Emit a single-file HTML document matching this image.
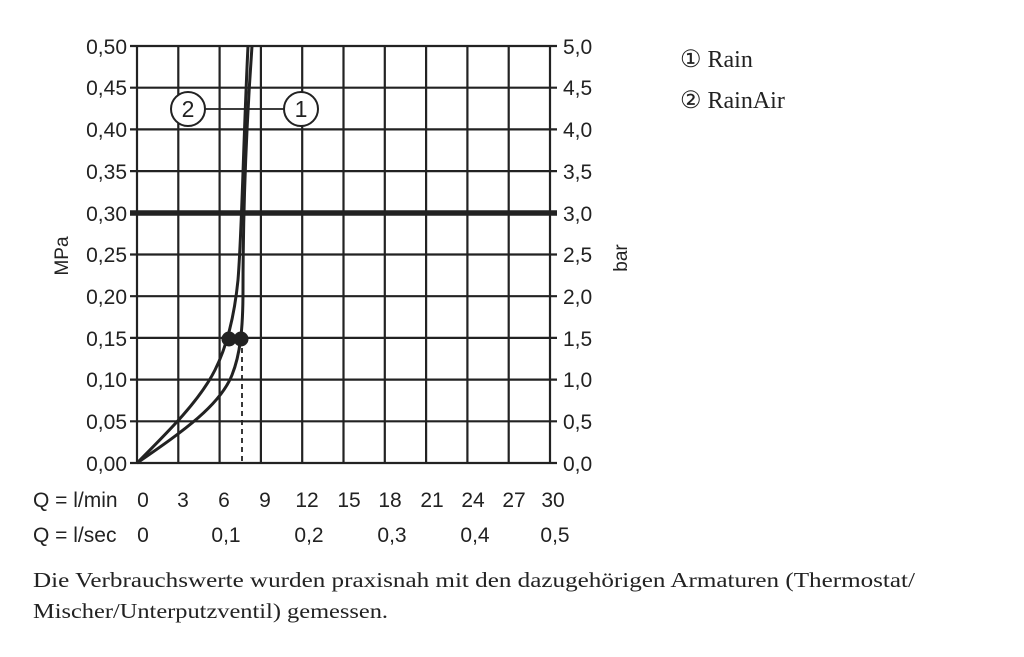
<!DOCTYPE html>
<html><head><meta charset="utf-8"><style>
body{margin:0;background:#fff;width:1024px;height:652px;overflow:hidden}
</style></head><body>
<svg width="1024" height="652" viewBox="0 0 1024 652" xmlns="http://www.w3.org/2000/svg" font-family="Liberation Sans, sans-serif" fill="#222">
<g stroke="#222" stroke-width="2.2" fill="none">
<line x1="137" y1="46" x2="137" y2="463"/><line x1="178.3" y1="46" x2="178.3" y2="463"/><line x1="219.6" y1="46" x2="219.6" y2="463"/><line x1="260.9" y1="46" x2="260.9" y2="463"/><line x1="302.2" y1="46" x2="302.2" y2="463"/><line x1="343.5" y1="46" x2="343.5" y2="463"/><line x1="384.8" y1="46" x2="384.8" y2="463"/><line x1="426.1" y1="46" x2="426.1" y2="463"/><line x1="467.4" y1="46" x2="467.4" y2="463"/><line x1="508.7" y1="46" x2="508.7" y2="463"/><line x1="550" y1="46" x2="550" y2="463"/>
<line x1="130" y1="46" x2="557" y2="46"/><line x1="130" y1="87.7" x2="557" y2="87.7"/><line x1="130" y1="129.4" x2="557" y2="129.4"/><line x1="130" y1="171.1" x2="557" y2="171.1"/><line x1="130" y1="254.5" x2="557" y2="254.5"/><line x1="130" y1="296.2" x2="557" y2="296.2"/><line x1="130" y1="337.9" x2="557" y2="337.9"/><line x1="130" y1="379.6" x2="557" y2="379.6"/><line x1="130" y1="421.3" x2="557" y2="421.3"/><line x1="130" y1="463" x2="557" y2="463"/>
<line x1="130" y1="213" x2="557" y2="213" stroke-width="5.5"/>
<line x1="242" y1="339" x2="242" y2="463" stroke-dasharray="5,4" stroke-width="1.8"/>
<path d="M137,463 C170,430 200,400 215,370 C225,350 234,320 238,280 C242,230 243,150 248,46" stroke-width="3"/>
<path d="M137,463 C185,430 220,405 232,375 C240,355 243,330 243,290 C243,240 244,160 252,46" stroke-width="3"/>
<line x1="205" y1="109" x2="284" y2="109" stroke-width="1.8"/>
<circle cx="188" cy="109" r="17" fill="#fff" stroke-width="2"/>
<circle cx="301" cy="109" r="17" fill="#fff" stroke-width="2"/>
</g>
<circle cx="229" cy="339" r="7.5"/><circle cx="241" cy="339" r="7.5"/>
<g font-size="23" text-anchor="middle"><text x="188" y="117">2</text><text x="301" y="117">1</text></g>
<g font-size="21" text-anchor="end">
<text x="127" y="54">0,50</text><text x="127" y="95">0,45</text><text x="127" y="137">0,40</text><text x="127" y="179">0,35</text><text x="127" y="221">0,30</text><text x="127" y="262">0,25</text><text x="127" y="304">0,20</text><text x="127" y="346">0,15</text><text x="127" y="387">0,10</text><text x="127" y="429">0,05</text><text x="127" y="471">0,00</text>
</g>
<g font-size="21">
<text x="563" y="54">5,0</text><text x="563" y="95">4,5</text><text x="563" y="137">4,0</text><text x="563" y="179">3,5</text><text x="563" y="221">3,0</text><text x="563" y="262">2,5</text><text x="563" y="304">2,0</text><text x="563" y="346">1,5</text><text x="563" y="387">1,0</text><text x="563" y="429">0,5</text><text x="563" y="471">0,0</text>
</g>
<text transform="translate(68,256) rotate(-90)" font-size="19" text-anchor="middle">MPa</text>
<text transform="translate(627,258) rotate(-90)" font-size="19" text-anchor="middle">bar</text>
<g font-size="21">
<text x="33" y="507">Q = l/min</text><text x="33" y="542">Q = l/sec</text>
</g>
<g font-size="21" text-anchor="middle">
<text x="143" y="507">0</text><text x="183" y="507">3</text><text x="224" y="507">6</text><text x="265" y="507">9</text><text x="307" y="507">12</text><text x="349" y="507">15</text><text x="390" y="507">18</text><text x="432" y="507">21</text><text x="473" y="507">24</text><text x="514" y="507">27</text><text x="553" y="507">30</text>
<text x="143" y="542">0</text><text x="226" y="542">0,1</text><text x="309" y="542">0,2</text><text x="392" y="542">0,3</text><text x="475" y="542">0,4</text><text x="555" y="542">0,5</text>
</g>
<g font-family="Liberation Serif, serif" font-size="24">
<text x="680" y="67">① Rain</text><text x="680" y="108">② RainAir</text>
</g>
<g font-family="Liberation Serif, serif" font-size="21.5">
<text x="33" y="587" textLength="882" lengthAdjust="spacingAndGlyphs">Die Verbrauchswerte wurden praxisnah mit den dazugehörigen Armaturen (Thermostat/</text>
<text x="33" y="618" textLength="355" lengthAdjust="spacingAndGlyphs">Mischer/Unterputzventil) gemessen.</text>
</g>
</svg>
</body></html>
